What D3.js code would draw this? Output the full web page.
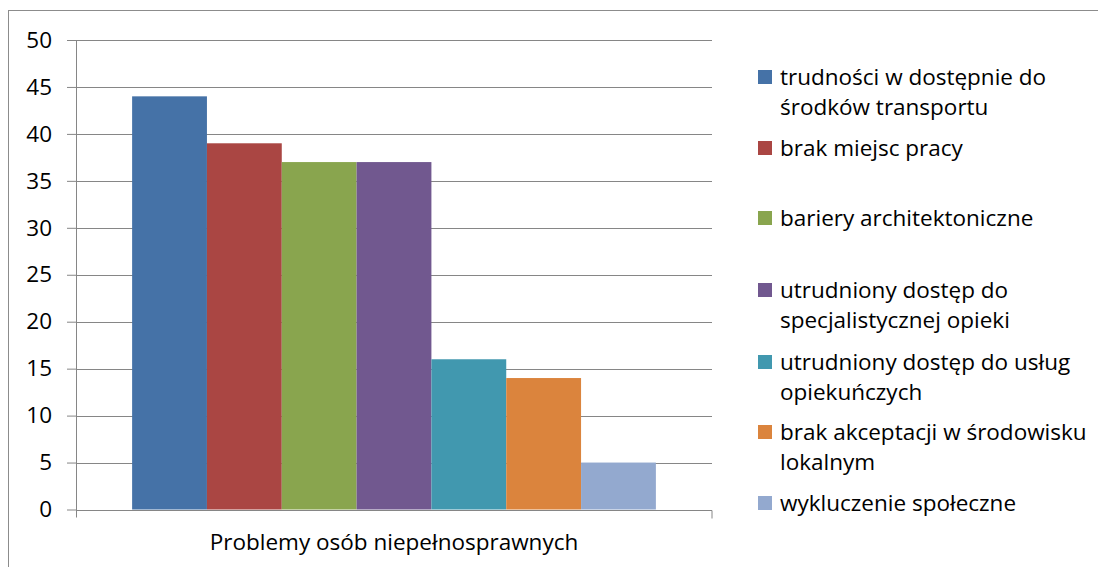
<!DOCTYPE html>
<html>
<head>
<meta charset="utf-8">
<script src="https://cdn.jsdelivr.net/npm/d3@7"></script>
<style>
  body { margin: 0; background: #fff; }
  text { font-family: "Open Sans", sans-serif; fill: #000; }
</style>
</head>
<body>
<div id="chart"></div>
<script>
const category = "Problemy osób niepełnosprawnych";
const seriesNames = [
  "trudności w dostępnie do\nśrodków transportu",
  "brak miejsc pracy",
  "bariery architektoniczne",
  "utrudniony dostęp do\nspecjalistycznej opieki",
  "utrudniony dostęp do usług\nopiekuńczych",
  "brak akceptacji w środowisku\nlokalnym",
  "wykluczenie społeczne"
];
const seriesValues = [44, 39, 37, 37, 16, 14, 5];
const yTicks = [0, 5, 10, 15, 20, 25, 30, 35, 40, 45, 50];
const colors = ["#4572A7", "#AA4643", "#89A54E", "#71588F", "#4198AF", "#DB843D", "#93A9CF"];

const W = 1098, H = 567;
const plot = { left: 76, right: 712, top: 40, bottom: 509.5 };
const FONT = "'Open Sans', sans-serif";
const FS = 22.5;

const svg = d3.select("#chart").append("svg")
  .attr("width", W)
  .attr("height", H);

// outer chart border
svg.append("rect")
  .attr("x", 8.5).attr("y", 10.5)
  .attr("width", W).attr("height", H)
  .attr("fill", "none")
  .attr("stroke", "#8c8c8c");

const y = d3.scaleLinear().domain([0, 50]).range([plot.bottom, plot.top]);
const x = d3.scaleBand().domain([category]).range([plot.left, plot.right]);

// gap width 150% of one bar, split on both sides
const barW = x.bandwidth() / (seriesNames.length + 1.5);
const inner = d3.scaleBand().domain(seriesNames)
  .range([x(category) + barW * 0.75, x(category) + x.bandwidth() - barW * 0.75]);

// gridlines + y labels
const yAxis = svg.append("g")
  .attr("transform", `translate(${plot.left},0)`)
  .call(d3.axisLeft(y).tickValues(yTicks).tickSize(9).tickPadding(15))
  .call(g => g.select(".domain").remove());
yAxis.selectAll(".tick line").attr("stroke", "#868686");
yAxis.selectAll(".tick text").attr("font-size", FS).attr("fill", "#000")
  .style("font-family", FONT);

svg.append("g").selectAll("line")
  .data(yTicks.filter(d => d > 0))
  .join("line")
  .attr("x1", plot.left).attr("x2", plot.right)
  .attr("y1", d => Math.round(y(d)) + 0.5).attr("y2", d => Math.round(y(d)) + 0.5)
  .attr("stroke", "#868686");

// bars
svg.append("g").selectAll("rect")
  .data(seriesNames.map((n, i) => ({ name: n, value: seriesValues[i], color: colors[i] })))
  .join("rect")
  .attr("x", d => inner(d.name))
  .attr("width", inner.bandwidth())
  .attr("y", d => y(d.value))
  .attr("height", d => y(0) - y(d.value))
  .attr("fill", d => d.color);

// axes lines
svg.append("line")
  .attr("x1", plot.left + 0.5).attr("x2", plot.left + 0.5)
  .attr("y1", plot.top).attr("y2", plot.bottom + 8)
  .attr("stroke", "#868686");
const xAxis = svg.append("g")
  .attr("transform", `translate(0,${Math.round(plot.bottom) + 0.5})`)
  .call(d3.axisBottom(x).tickSize(0).tickPadding(24))
  .call(g => g.select(".domain").attr("stroke", "#868686").attr("d", `M${plot.left},0H${plot.right}V8`));
xAxis.selectAll(".tick text").attr("font-size", FS).attr("fill", "#000")
  .style("font-family", FONT);

// legend
const legendY = [77, 148, 218, 290, 362, 432, 503];
const legend = svg.append("g").selectAll("g")
  .data(seriesNames)
  .join("g")
  .attr("transform", (d, i) => `translate(758,${legendY[i]})`);
legend.append("rect")
  .attr("x", 0).attr("y", -7)
  .attr("width", 14).attr("height", 14)
  .attr("fill", (d, i) => colors[i]);
legend.append("text")
  .attr("font-size", FS)
  .selectAll("tspan")
  .data(d => d.split("\n"))
  .join("tspan")
  .attr("x", 22)
  .attr("y", (d, i) => i * 30)
  .attr("dy", "0.35em")
  .text(d => d);
</script>
</body>
</html>
